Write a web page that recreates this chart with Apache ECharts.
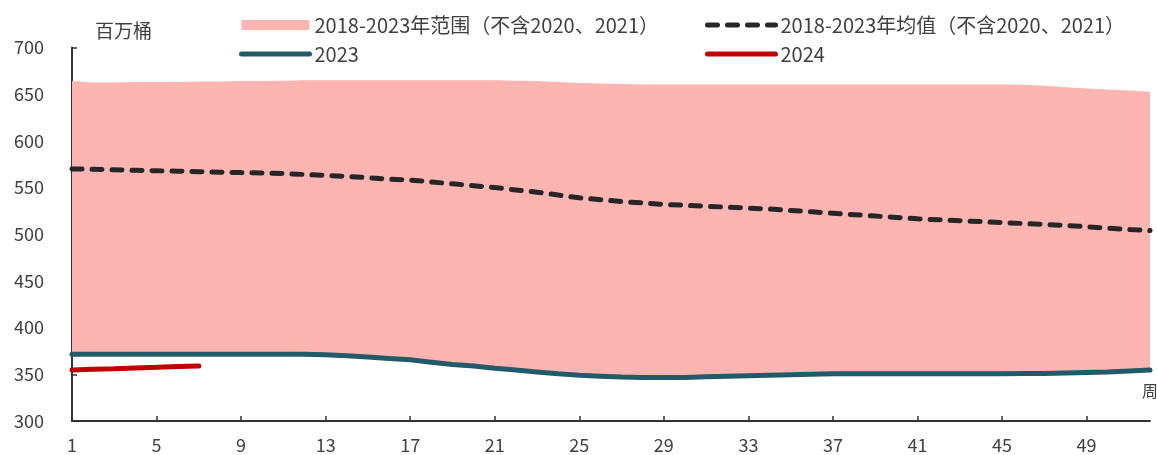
<!DOCTYPE html>
<html>
<head>
<meta charset="utf-8">
<title>库存季节性</title>
<script src="https://cdn.jsdelivr.net/npm/echarts@6/dist/echarts.min.js"></script>
<style>
  html, body { margin: 0; padding: 0; background: #fff; }
  #chart { width: 1157px; height: 455px; }
</style>
</head>
<body>
<div id="chart"></div>
<script>
  // 周
  var weeks = ['1','2','3','4','5','6','7','8','9','10','11','12','13','14','15','16','17','18','19','20',
    '21','22','23','24','25','26','27','28','29','30','31','32','33','34','35','36','37','38','39','40',
    '41','42','43','44','45','46','47','48','49','50','51','52'];

  // 2018-2023年范围上沿(不含2020、2021)
  var rangeHigh = [664,662.5,662.5,663,663,663,663.5,663.5,664,664,664.5,665,665,665,665,665,665,665,665,665,
    665,664.5,664,663,662,661.5,661,660.5,660.5,660.5,660.5,660.5,660.5,660.5,660.5,660.5,660.5,660.5,660.5,660.5,
    660.5,660.5,660.5,660.5,660.5,660,659,657.5,656,655,654,652.5];

  // 2018-2023年均值(不含2020、2021)
  var avgVals = [570,569.5,569,568.5,568,567.5,567,566.5,566,565.5,565,564,563,562,560.5,559,558,556,554,552,
    550,547.5,545,542,539,537,535,533.5,532,531,530,529,528,527,525.5,524,522.5,521,519.5,518,
    516.5,515.5,514.5,513.5,512.5,511.5,510.5,509.5,508,506.5,505,504];

  // 2023 (也是范围下沿)
  var y2023 = [371.5,371.5,371.5,371.5,371.5,371.5,371.5,371.5,371.5,371.5,371.5,371.5,371,370,368.5,367,365.5,363,360.5,359,
    356.5,354.5,352.5,350.5,349,348,347,346.5,346.5,346.5,347.5,348,348.5,349,349.5,350,350.5,350.5,350.5,350.5,
    350.5,350.5,350.5,350.5,350.5,351,351,351.5,352,352.5,353.5,354.5];

  // 2024
  var y2024 = [354.5,355.3,356,356.8,357.5,358.3,359];

  var rangeLow = y2023;
  var rangeBand = rangeHigh.map(function (v, i) { return v - rangeLow[i]; });

  var nameRange = '2018-2023年范围（不含2020、2021）';
  var nameAvg = '2018-2023年均值（不含2020、2021）';

  var txtColor = '#404040';
  var fontCn = '"Noto Sans CJK SC", "Noto Sans", sans-serif';

  var myChart = echarts.init(document.getElementById('chart'));
  var legendBase = {
    orient: 'vertical', top: 15, itemGap: 9, padding: 0,
    itemWidth: 68, itemHeight: 10,
    itemStyle: { opacity: 0 },
    lineStyle: { width: 5 },
    textStyle: { fontSize: 20, color: txtColor, lineHeight: 20 }
  };
  var option = {
    animation: false,
    textStyle: { fontFamily: fontCn },
    title: [
      { text: '百万桶', left: 90, top: 16, textStyle: { fontSize: 19, fontWeight: 'normal', color: txtColor, fontFamily: fontCn } },
      { text: '周', left: 1137, top: 378, textStyle: { fontSize: 16, fontWeight: 'normal', color: txtColor, fontFamily: fontCn } }
    ],
    grid: { left: 72, right: 7, top: 47.5, bottom: 34, containLabel: false },
    legend: [
      Object.assign({}, legendBase, {
        left: 239,
        data: [
          { name: nameRange, icon: 'rect', itemStyle: { color: '#FCB5B0', opacity: 1 } },
          { name: '2023' }
        ]
      }),
      Object.assign({}, legendBase, {
        left: 705,
        data: [ { name: nameAvg }, { name: '2024' } ]
      })
    ],
    xAxis: {
      type: 'category',
      boundaryGap: false,
      data: weeks,
      axisLine: { lineStyle: { color: '#333', width: 2 } },
      axisTick: { inside: true, length: 5, interval: 3, lineStyle: { color: '#333', width: 1.5 } },
      axisLabel: { interval: 3, margin: 15, fontSize: 18, color: txtColor },
      splitLine: { show: false }
    },
    yAxis: {
      type: 'value',
      min: 300, max: 700, interval: 50,
      axisLine: { show: true, lineStyle: { color: '#333', width: 2 } },
      axisTick: { show: true, inside: true, length: 5, lineStyle: { color: '#333', width: 1.5 } },
      axisLabel: { margin: 28, fontSize: 18, color: txtColor },
      splitLine: { show: false }
    },
    series: [
      {
        name: 'rangeLow', type: 'line', stack: 'range', data: rangeLow,
        symbol: 'none', lineStyle: { opacity: 0 }, silent: true
      },
      {
        name: nameRange, type: 'line', stack: 'range', data: rangeBand,
        symbol: 'none', itemStyle: { color: '#FCB5B0' },
        lineStyle: { opacity: 0, width: 0 },
        areaStyle: { color: '#FCB5B0', opacity: 1 }
      },
      {
        name: nameAvg, type: 'line', data: avgVals, symbol: 'none',
        itemStyle: { color: '#262626' },
        lineStyle: { color: '#262626', width: 5, type: [10, 10], cap: 'round' }
      },
      {
        name: '2023', type: 'line', data: y2023, symbol: 'none',
        itemStyle: { color: '#235A69' },
        lineStyle: { color: '#235A69', width: 5, cap: 'round' }
      },
      {
        name: '2024', type: 'line', data: y2024, symbol: 'none',
        itemStyle: { color: '#C00000' },
        lineStyle: { color: '#C00000', width: 5, cap: 'round' }
      }
    ]
  };
  myChart.setOption(option);
</script>
</body>
</html>
